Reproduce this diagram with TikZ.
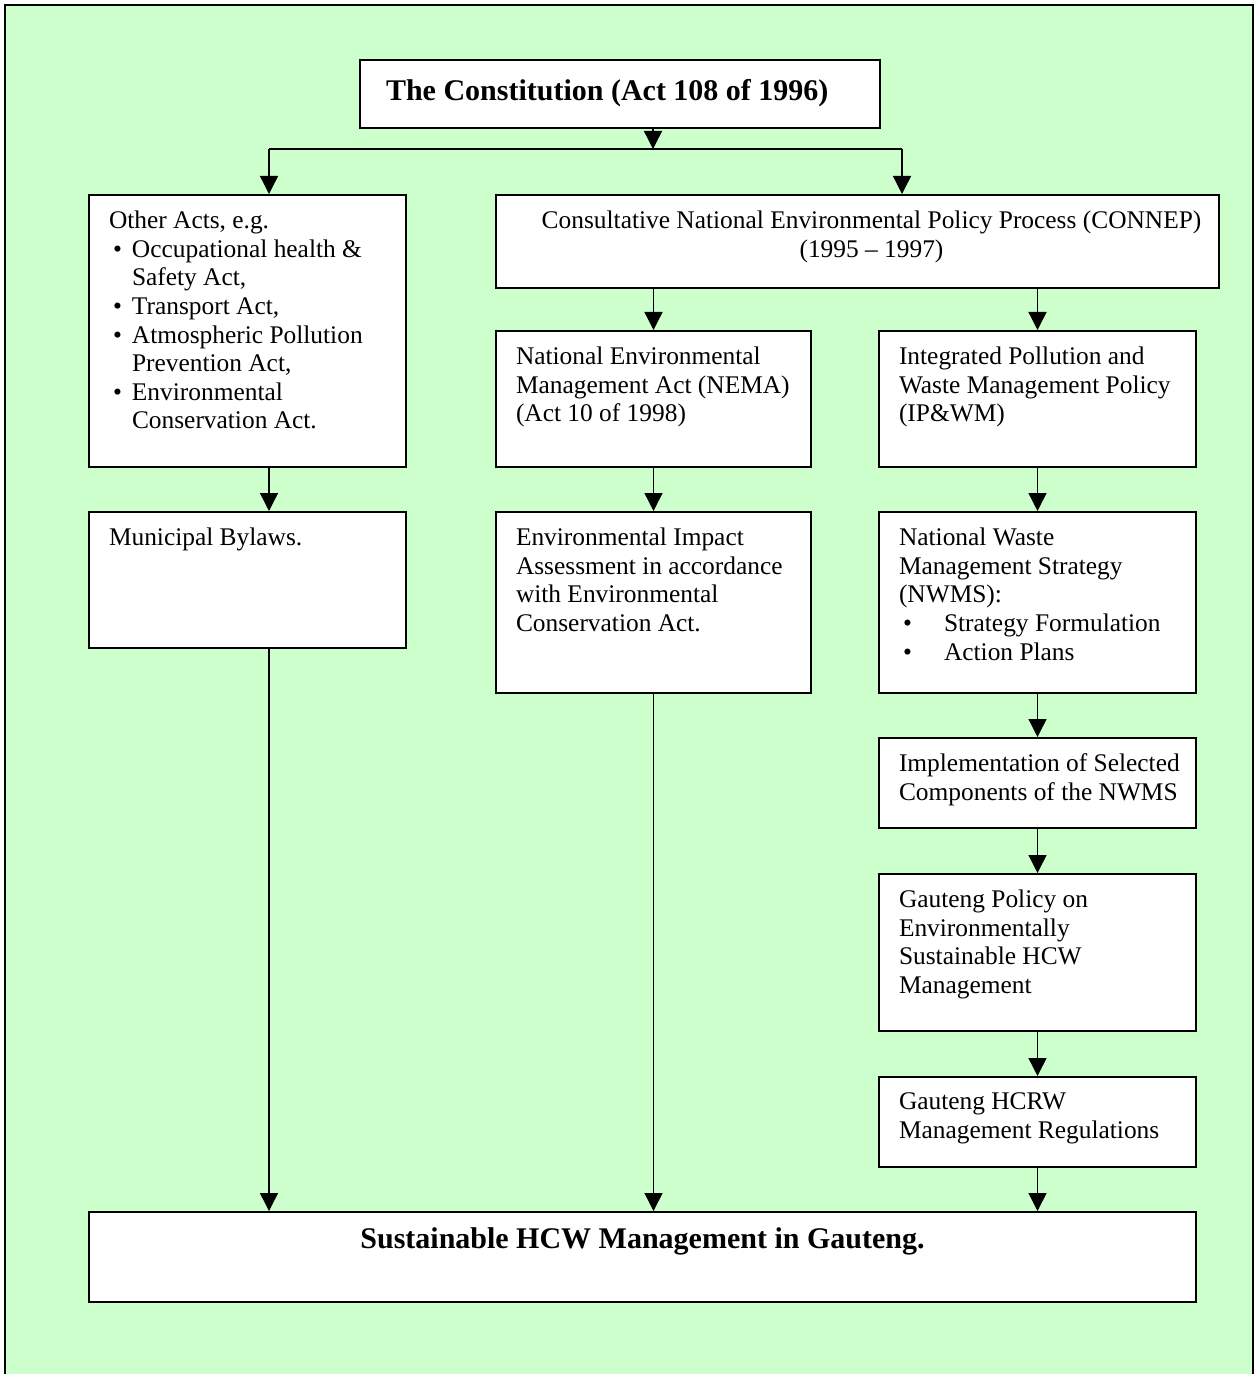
\documentclass[tikz,border=0pt]{standalone}
\usepackage{fontspec}
\setmainfont{Liberation Serif}
\usetikzlibrary{arrows.meta}
\definecolor{paleGreen}{HTML}{CCFFCC}
\newcommand{\pbox}[3]{\hspace*{10pt}\parbox[t][#2][t]{#1}{\raggedright#3}\hspace*{4pt}}
\newcommand{\bul}{\makebox[11.5pt][l]{\hspace{2pt}\textbullet}}
\newcommand{\wbul}{\makebox[22.5pt][l]{\hspace{2pt}\textbullet}}
\newcommand{\ind}{\hspace*{11.5pt}}
\begin{document}
\begin{tikzpicture}[x=0.5pt,y=-0.5pt,
		panel/.style={draw=black,fill=white,line width=1pt,anchor=north west,inner xsep=0pt,inner ysep=8pt,font=\fontsize{12.7}{14.3}\selectfont},
		headline/.style={font=\fontsize{15}{17}\selectfont\bfseries},
		flow/.style={-{Triangle[width=9pt,length=9pt]},line width=0.7pt}]
	\useasboundingbox (0,0) rectangle (1256,1374);
	\fill[paleGreen] (5,5) rectangle (1253,1374);
	\draw[line width=1.2pt] (5,1374) -- (5,5) -- (1253,5) -- (1253,1374);
		\node[panel,headline,inner ysep=9.5pt] (constitution) at (359,59) {\hspace*{13pt}\parbox[t][15pt][t]{247pt}{The Constitution (Act 108 of 1996)}};
		\node[panel] (acts) at (88,194) {\pbox{144.5pt}{120pt}{Other Acts, e.g.\\ \bul Occupational health \&\\ \ind Safety Act,\\ \bul Transport Act,\\ \bul Atmospheric Pollution\\ \ind Prevention Act,\\ \bul Environmental\\ \ind Conservation Act.}};
		\node[panel] (bylaws) at (88,511) {\pbox{144.5pt}{52pt}{Municipal Bylaws.}};
		\node[panel] (connep) at (495,194) {\hspace*{14pt}\parbox[t][30.5pt][t]{347.5pt}{\centering Consultative National Environmental Policy Process (CONNEP)\\ (1995 -- 1997)}};
		\node[panel] (nema) at (495,330) {\pbox{143.5pt}{52pt}{National Environmental\\ Management Act (NEMA)\\ (Act 10 of 1998)}};
		\node[panel] (eia) at (495,511) {\pbox{143.5pt}{74.5pt}{Environmental Impact\\ Assessment in accordance\\ with Environmental\\ Conservation Act.}};
		\node[panel] (ipwm) at (878,330) {\pbox{144.5pt}{52pt}{Integrated Pollution and\\ Waste Management Policy\\ (IP\&WM)}};
		\node[panel] (nwms) at (878,511) {\pbox{144.5pt}{74.5pt}{National Waste\\ Management Strategy\\ (NWMS):\\ \wbul Strategy Formulation\\ \wbul Action Plans}};
		\node[panel] (impl) at (878,737) {\pbox{144.5pt}{29pt}{Implementation of Selected\\ Components of the NWMS}};
		\node[panel] (gpolicy) at (878,873) {\pbox{144.5pt}{62.5pt}{Gauteng Policy on\\ Environmentally\\ Sustainable HCW\\ Management}};
		\node[panel] (hcrw) at (878,1076) {\pbox{144.5pt}{29pt}{Gauteng HCRW\\ Management Regulations}};
		\node[panel,headline] (goal) at (88,1211) {\parbox[t][29pt][t]{553.5pt}{\centering Sustainable HCW Management in Gauteng.}};
	\coordinate (split) at (653,149);
	\coordinate (forkl) at (269,149);
	\coordinate (forkr) at (902,149);
	\draw[flow] (constitution.south -| split) -- (split);
	\draw[line width=0.7pt] (forkl) -- (forkr);
	\draw[flow] (forkl) -- (forkl |- acts.north);
	\draw[flow] (forkr) -- (forkr |- connep.north);
	\draw[flow] (acts.south -| forkl) -- (bylaws.north -| forkl);
	\draw[flow] (bylaws.south -| forkl) -- (goal.north -| forkl);
	\draw[flow] (connep.south -| nema.north) -- (nema.north);
	\draw[flow] (connep.south -| ipwm.north) -- (ipwm.north);
	\draw[flow] (nema.south) -- (eia.north);
	\draw[flow] (eia.south) -- (eia.south |- goal.north);
	\foreach \a/\b in {ipwm/nwms,nwms/impl,impl/gpolicy,gpolicy/hcrw}
		\draw[flow] (\a.south) -- (\b.north);
	\draw[flow] (hcrw.south) -- (hcrw.south |- goal.north);
\end{tikzpicture}
\end{document}
